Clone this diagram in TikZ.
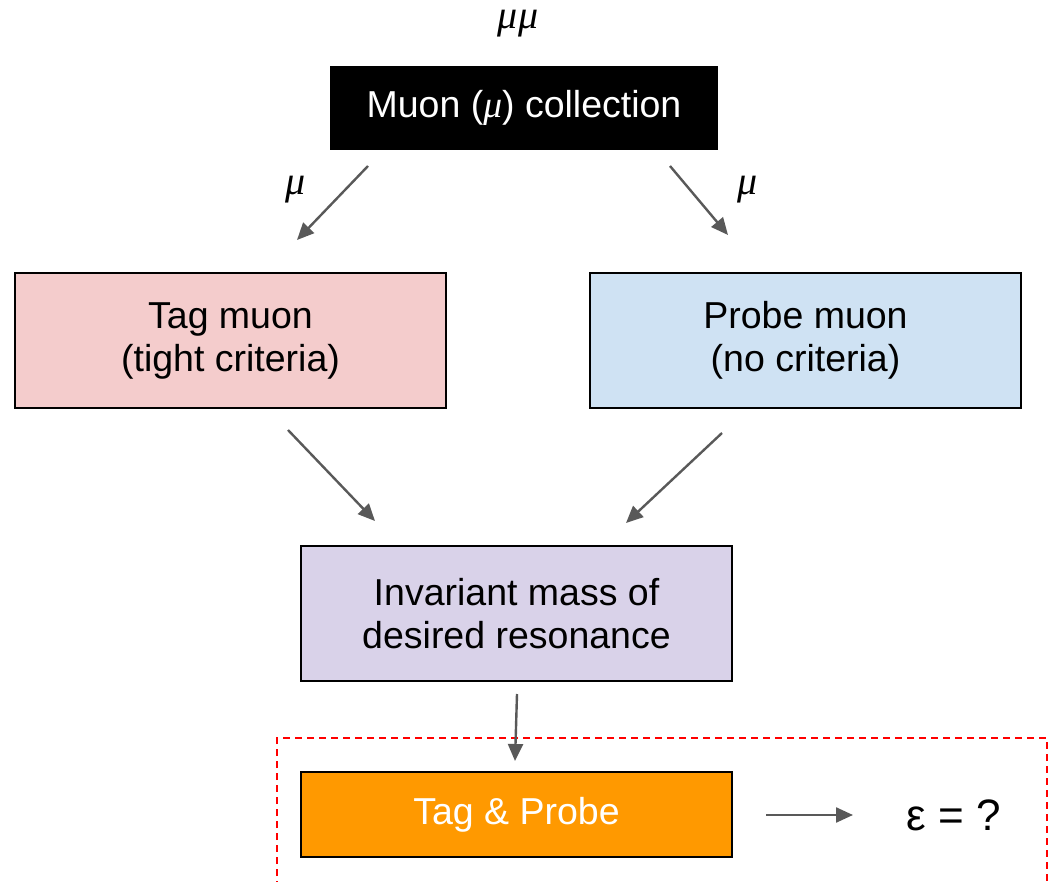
\documentclass[tikz,border=0pt]{standalone}
\usepackage{fontspec}
\setmainfont{Liberation Sans}
\newfontfamily\greekit{Liberation Serif}
\newcommand{\mymu}{{\greekit\itshape μ}}
\usetikzlibrary{arrows.meta}
\definecolor{tagfill}{HTML}{F4CCCC}
\definecolor{probefill}{HTML}{CFE2F3}
\definecolor{massfill}{HTML}{D9D2E9}
\definecolor{tpfill}{HTML}{FF9900}
\definecolor{arrowgray}{HTML}{595959}
\tikzset{
  box/.style={draw=black, line width=1.5pt, minimum width=431pt, minimum height=135pt,
    inner sep=0pt, align=center, font=\fontsize{37.5}{43}\selectfont},
  flow/.style={draw=arrowgray, line width=2.4pt,
    -{Triangle[length=17pt,width=15pt]}},
  lbl/.style={inner sep=0pt, font=\fontsize{40}{43}\selectfont},
}
\begin{document}
\begin{tikzpicture}[x=1pt,y=-1pt]
\useasboundingbox (0,0) rectangle (1061,882);

% dashed frame around the final stage
\draw[red, line width=1.5pt, dash pattern=on 7pt off 5pt] (277,900) -- (277,738) -- (1047,738) -- (1047,900);

% boxes
\node[box, fill=black, text=white, minimum width=386pt, minimum height=82pt] (coll) at (524,108) {Muon (\mymu) collection};
\node[box, fill=tagfill] (tag) at (230.5,340.5) {Tag muon\\(tight criteria)};
\node[box, fill=probefill] (probe) at (805.5,340.5) {Probe muon\\(no criteria)};
\node[box, fill=massfill] (mass) at (516.5,613.5) {Invariant mass of\\desired resonance};
\node[box, fill=tpfill, text=white, minimum height=85pt] (tp) at (516.5,814.5) {Tag \& Probe};

% labels
\node[lbl] (mumu) at (518,24) {\mymu\mymu};
\node[lbl] (muL) at (296,190) {\mymu};
\node[lbl] (muR) at (748,190) {\mymu};
\node[lbl, font=\fontsize{44}{48}\selectfont] (eps) at (954,815) {ε = ?};

% connector end points
\coordinate (a1s) at (368,166); \coordinate (a1e) at (297,240);
\coordinate (a2s) at (670,166); \coordinate (a2e) at (728,235);
\coordinate (a3s) at (288,430); \coordinate (a3e) at (375,521);
\coordinate (a4s) at (722,433); \coordinate (a4e) at (626,523);
\coordinate (a5s) at (517,694); \coordinate (a5e) at (515,761);
\coordinate (a6s) at (766,815); \coordinate (a6e) at (853,815);

\draw[flow] (a1s) -- (a1e);
\draw[flow] (a2s) -- (a2e);
\draw[flow] (a3s) -- (a3e);
\draw[flow] (a4s) -- (a4e);
\draw[flow] (a5s) -- (a5e);
\draw[flow] (a6s) -- (a6e);
\end{tikzpicture}
\end{document}
